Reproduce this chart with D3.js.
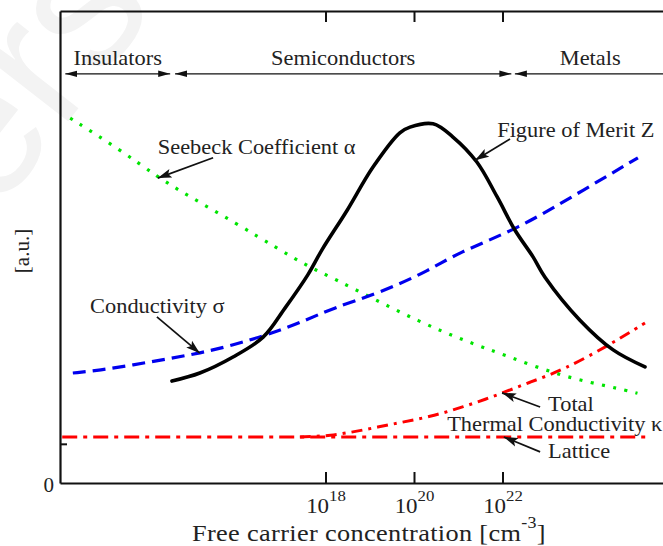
<!DOCTYPE html>
<head>
    <script src="https://d3js.org/d3.v7.min.js"></script>
</head>
<style>
body {
    margin: 0;
    background: #fff;
    font-family: "Liberation Serif", "DejaVu Serif", serif;
}
text {
    font-family: "Liberation Serif", "DejaVu Serif", serif;
    fill: #222;
}
</style>
<body>
<svg></svg>
</body>
<script>

    // Data (x = log10 of free carrier concentration, y = arbitrary units)
    var seebeck = [[12.23, 77.3], [13.36, 70.6], [14.21, 64.8], [14.87, 61.0], [16.0, 54.9], [16.9, 49.8],
        [17.58, 46.0], [18.26, 43.0], [19.0, 39.4], [20.14, 34.1], [21.1, 30.3], [22.1, 26.9],
        [23.37, 22.5], [24.5, 20.3], [25.05, 19.0]];
    var conductivity = [[12.29, 23.3], [12.9, 23.9], [13.65, 25.0], [14.42, 26.3], [15.16, 27.5], [15.91, 29.2],
        [16.68, 31.4], [17.42, 33.9], [18.17, 37.1], [19.23, 40.3], [20.36, 45.1], [20.97, 48.7],
        [22.28, 53.6], [23.46, 60.0], [25.06, 68.9]];
    var meritZ = [[14.53, 21.6], [15.16, 23.3], [15.91, 26.7], [16.59, 30.9], [17.08, 37.0], [17.6, 44.1],
        [17.92, 49.4], [18.49, 57.8], [19.07, 66.9], [19.68, 74.2], [19.91, 75.4], [20.43, 76.1],
        [20.88, 73.3], [21.42, 68.0], [21.88, 60.6], [22.28, 53.6], [22.69, 47.9], [22.96, 43.6],
        [23.75, 34.5], [24.5, 28.2], [25.22, 24.6]];
    var kappaTotal = [[17.42, 9.75], [18.1, 9.96], [18.85, 11.2], [19.62, 12.7], [20.36, 14.0], [21.11, 16.1],
        [21.88, 18.6], [22.62, 21.4], [23.37, 23.9], [24.5, 29.7], [25.22, 33.9]];
    var kappaLattice = [[12.05, 9.75], [25.29, 9.75]];

    var xTicks = [18, 20, 22];
    var yTicks = [0, 8.3];
    var regions = [
        { name: "Insulators", from: 12.12, to: 14.49 },
        { name: "Semiconductors", from: 14.6, to: 22.2 },
        { name: "Metals", from: 22.28, to: 26.0 }
    ];

    // Layout
    var width = 663;
    var height = 546;
    var plotLeft = 60, plotTop = 11, plotBottom = 483;
    var pxPerDecade = 44.25;
    var stretch = 1.12;   // the original lettering is a bit wider than Times

    var x = d3.scaleLinear().domain([12, 26]).range([plotLeft, plotLeft + 14 * pxPerDecade]);
    var y = d3.scaleLinear().domain([0, 100]).range([plotBottom, plotTop]);

    var svg = d3.select('svg')
        .attr('width', width)
        .attr('height', height);

    svg.append('rect').attr('width', width).attr('height', height).attr('fill', '#fff');

    // faint watermark
    svg.append('text')
        .attr('transform', 'translate(-5,215)rotate(-52)')
        .style('font-size', '190px')
        .style('fill', '#f3f3f3')
        .style('font-family', 'Liberation Sans, sans-serif')
        .text('ers');

    function place(px, py) {
        return 'translate(' + px + ',' + py + ')scale(' + stretch + ',1)';
    }

    var defs = svg.append('defs');
    defs.append('marker')
        .attr('id', 'head')
        .attr('viewBox', '0 0 12 8')
        .attr('refX', 12).attr('refY', 4)
        .attr('markerWidth', 12).attr('markerHeight', 8)
        .attr('markerUnits', 'userSpaceOnUse')
        .attr('orient', 'auto-start-reverse')
        .append('path').attr('d', 'M0,0.8L12,4L0,7.2Z').attr('fill', '#111');
    defs.append('marker')
        .attr('id', 'bighead')
        .attr('viewBox', '0 0 14 10')
        .attr('refX', 14).attr('refY', 5)
        .attr('markerWidth', 14).attr('markerHeight', 10)
        .attr('markerUnits', 'userSpaceOnUse')
        .attr('orient', 'auto')
        .append('path').attr('d', 'M0,0.5L14,5L0,9.5L3,5Z').attr('fill', '#111');

    // Axes
    var gx = svg.append('g')
        .attr('transform', 'translate(0,' + plotBottom + ')')
        .call(d3.axisBottom(x).tickValues(xTicks).tickSizeInner(-11).tickSizeOuter(0).tickFormat(''));
    gx.selectAll('text').remove();
    gx.selectAll('.tick').append('text')
        .attr('transform', place(0, 30))
        .attr('text-anchor', 'middle')
        .style('font-size', '20.5px')
        .each(function (d) {
            var t = d3.select(this);
            t.append('tspan').text('10');
            t.append('tspan').attr('dy', -12).style('font-size', '15px').text(d);
        });

    var gt = svg.append('g')
        .attr('transform', 'translate(0,' + plotTop + ')')
        .call(d3.axisTop(x).tickValues(xTicks).tickSizeInner(-11).tickSizeOuter(0).tickFormat(''));

    var gy = svg.append('g')
        .attr('transform', 'translate(' + plotLeft + ',0)')
        .call(d3.axisLeft(y).tickValues(yTicks).tickSizeInner(-7).tickSizeOuter(0)
            .tickFormat(function (d) { return d === 0 ? '0' : ''; }));
    gy.selectAll('text').attr('x', -6).attr('dy', '0.4em').style('font-size', '21px').style('fill', '#222');
    gy.selectAll('.tick').filter(function (d) { return d === 0; }).select('line').remove();

    [gx, gt, gy].forEach(function (g) {
        g.select('.domain').attr('stroke', '#111').attr('stroke-width', 2.2);
        g.selectAll('.tick line').attr('stroke', '#111').attr('stroke-width', 2);
    });

    // axis titles
    svg.append('text')
        .attr('transform', 'translate(29,251)rotate(-90)')
        .attr('text-anchor', 'middle')
        .style('font-size', '21px')
        .text('[a.u.]');

    var xt = svg.append('text')
        .attr('transform', place(369, 541))
        .attr('text-anchor', 'middle')
        .style('font-size', '23.5px')
        .style('letter-spacing', '0.3px');
    xt.append('tspan').text('Free carrier concentration [cm');
    xt.append('tspan').attr('dy', -13).style('font-size', '16px').text('-3');
    xt.append('tspan').attr('dy', 13).text(']');

    // Region arrows across the top
    var regionY = y(86.7);
    regions.forEach(function (r) {
        svg.append('line')
            .attr('x1', x(r.from)).attr('x2', x(r.to))
            .attr('y1', regionY).attr('y2', regionY)
            .attr('stroke', '#111').attr('stroke-width', 1.3)
            .attr('marker-start', 'url(#head)')
            .attr('marker-end', 'url(#head)');
        svg.append('text')
            .attr('transform', place((x(r.from) + x(r.to)) / 2 - (r.name === 'Metals' ? 7 : 0), regionY - 9))
            .attr('text-anchor', 'middle')
            .style('font-size', '20px')
            .text(r.name);
    });

    // Curves
    var smooth = d3.line()
        .x(function (d) { return x(d[0]); })
        .y(function (d) { return y(d[1]); })
        .curve(d3.curveBasis);
    var through = d3.line()
        .x(function (d) { return x(d[0]); })
        .y(function (d) { return y(d[1]); })
        .curve(d3.curveCatmullRom.alpha(0.5));

    var series = [
        { data: kappaLattice, line: smooth, color: '#ff0000', width: 3, dash: '15,6,4,6', cap: 'butt' },
        { data: kappaTotal, line: smooth, color: '#ff0000', width: 3, dash: '11,6,3,6', cap: 'butt' },
        { data: seebeck, line: smooth, color: '#00e400', width: 3.2, dash: '3,8.5', cap: 'butt' },
        { data: conductivity, line: smooth, color: '#0000ee', width: 3.2, dash: '13,7', cap: 'butt' },
        { data: meritZ, line: through, color: '#000', width: 3.6, dash: null, cap: 'round' }
    ];

    series.forEach(function (s) {
        svg.append('path')
            .datum(s.data)
            .attr('d', s.line)
            .attr('fill', 'none')
            .attr('stroke', s.color)
            .attr('stroke-width', s.width)
            .attr('stroke-linecap', s.cap)
            .attr('stroke-dasharray', s.dash);
    });

    // Annotations: tip on curve, tail of arrow, text start
    var notes = [
        { text: 'Seebeck Coefficient \u03b1', tip: [14.21, 64.6], tail: [15.46, 68.9], at: [14.21, 69.8] },
        { text: 'Figure of Merit Z', tip: [21.38, 68.4], tail: [22.17, 72.9], at: [21.88, 73.3] },
        { text: 'Conductivity \u03c3', tip: [15.16, 27.5], tail: [14.19, 35.2], at: [12.68, 36.0] },
        { text: 'Total', tip: [21.99, 19.1], tail: [22.85, 16.1], at: [23.03, 15.2] },
        { text: 'Thermal Conductivity \u03ba', tip: null, tail: null, at: [20.75, 11.0] },
        { text: 'Lattice', tip: [22.03, 9.75], tail: [22.85, 6.6], at: [23.03, 5.3] }
    ];

    notes.forEach(function (n) {
        if (n.tip) {
            svg.append('line')
                .attr('x1', x(n.tail[0])).attr('y1', y(n.tail[1]))
                .attr('x2', x(n.tip[0])).attr('y2', y(n.tip[1]))
                .attr('stroke', '#111').attr('stroke-width', 1.7)
                .attr('marker-end', 'url(#bighead)');
        }
        svg.append('text')
            .attr('transform', place(x(n.at[0]), y(n.at[1])))
            .style('font-size', '20px')
            .text(n.text);
    });

</script>
